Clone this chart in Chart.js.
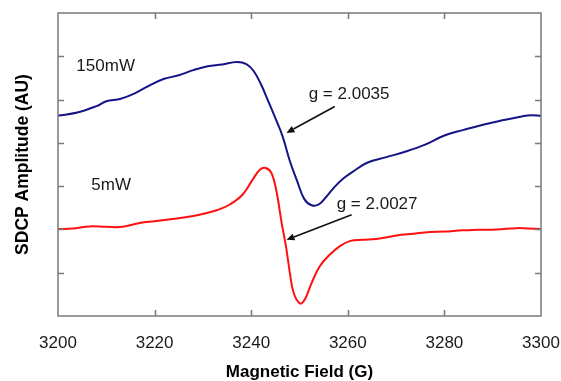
<!DOCTYPE html>
<html>
<head>
<meta charset="utf-8">
<script src="https://cdn.jsdelivr.net/npm/chart.js@4"></script>
<style>
  html, body { margin: 0; padding: 0; background: #fff; }
</style>
</head>
<body>
<canvas id="esrChart" width="561" height="381"></canvas>
<script>
// 150 mW 스펙트럼
const field150 = [3200, 3204, 3208, 3210, 3213, 3216, 3219, 3222, 3225, 3228, 3231, 3234, 3237, 3239,
  3240.5, 3242, 3243.5, 3245, 3246.5, 3248, 3249.5, 3251, 3252.5, 3254, 3255.5, 3257, 3259, 3261,
  3264, 3268, 3272, 3276, 3280, 3284, 3288, 3292, 3296, 3298, 3300];
const amp150 = [4.63, 4.70, 4.85, 4.96, 5.02, 5.15, 5.33, 5.48, 5.56, 5.68, 5.77, 5.81, 5.87, 5.82,
  5.66, 5.36, 4.97, 4.57, 4.15, 3.58, 3.12, 2.70, 2.56, 2.58, 2.75, 2.95, 3.17, 3.33,
  3.54, 3.67, 3.80, 3.96, 4.17, 4.30, 4.42, 4.52, 4.61, 4.64, 4.62];

// 5 mW 스펙트럼
const field5 = [3200, 3203, 3206.5, 3210, 3213.4, 3216.9, 3220, 3224.6, 3228, 3230.8, 3233, 3235.5,
  3238.2, 3240.3, 3241.8, 3243, 3244.2, 3245.3, 3246.3, 3247.2, 3248, 3248.8, 3250.1, 3251.1,
  3252.5, 3254.2, 3256.3, 3258.3, 3260.4, 3263.1, 3265.9, 3270.1, 3273.5, 3277, 3280, 3283.8,
  3287, 3290.8, 3295, 3297.5, 3300];
const amp5 = [2.01, 2.02, 2.07, 2.06, 2.06, 2.15, 2.19, 2.25, 2.31, 2.38, 2.45, 2.57,
  2.80, 3.15, 3.38, 3.42, 3.30, 2.84, 2.15, 1.61, 1.00, 0.53, 0.29, 0.38,
  0.76, 1.15, 1.42, 1.61, 1.73, 1.76, 1.78, 1.86, 1.90, 1.94, 1.95, 1.98,
  1.99, 2.00, 2.03, 2.02, 2.01];

const xTicks = [3200, 3220, 3240, 3260, 3280, 3300];
const yTicks = [0, 1, 2, 3, 4, 5, 6, 7];

// 라벨과 화살표 (데이터 좌표)
const labels = [
  { text: "150mW", x: 3203.8, y: 5.77 },
  { text: "5mW", x: 3206.9, y: 3.03 },
  { text: "g = 2.0035", x: 3251.9, y: 5.11 },
  { text: "g = 2.0027", x: 3257.7, y: 2.57 },
];
const arrows = [
  { from: [3257.3, 4.84], to: [3247.3, 4.23] },
  { from: [3260.8, 2.34], to: [3247.3, 1.76] },
];

const toPoints = (xs, ys) => xs.map((x, i) => ({ x, y: ys[i] }));

const FONT = "'Liberation Sans', Arial, sans-serif";

// 테두리, 안쪽 눈금, 주석
const framePlugin = {
  id: "framePlugin",
  afterDatasetsDraw(chart) {
    const { ctx, chartArea: a, scales } = chart;
    const xs = scales.x, ys = scales.y;
    ctx.save();
    ctx.strokeStyle = "#7a7a7a";
    ctx.lineWidth = 1.5;
    ctx.strokeRect(a.left, a.top, a.right - a.left, a.bottom - a.top);
    ctx.beginPath();
    xTicks.slice(1, -1).forEach((v) => {
      const px = Math.round(xs.getPixelForValue(v)) + 0.5;
      ctx.moveTo(px, a.bottom); ctx.lineTo(px, a.bottom - 6);
      ctx.moveTo(px, a.top); ctx.lineTo(px, a.top + 6);
    });
    yTicks.slice(1, -1).forEach((v) => {
      const py = Math.round(ys.getPixelForValue(v)) + 0.5;
      ctx.moveTo(a.left, py); ctx.lineTo(a.left + 6, py);
      ctx.moveTo(a.right, py); ctx.lineTo(a.right - 6, py);
    });
    ctx.stroke();

    ctx.fillStyle = "#1a1a1a";
    ctx.font = "17px " + FONT;
    ctx.textAlign = "left";
    ctx.textBaseline = "middle";
    labels.forEach((l) => {
      ctx.fillText(l.text, xs.getPixelForValue(l.x), ys.getPixelForValue(l.y));
    });

    ctx.strokeStyle = "#111";
    ctx.fillStyle = "#111";
    ctx.lineWidth = 1.6;
    arrows.forEach((ar) => {
      const x1 = xs.getPixelForValue(ar.from[0]), y1 = ys.getPixelForValue(ar.from[1]);
      const x2 = xs.getPixelForValue(ar.to[0]), y2 = ys.getPixelForValue(ar.to[1]);
      const ang = Math.atan2(y2 - y1, x2 - x1);
      const hl = 8, hw = 3.5;
      const bx = x2 - hl * Math.cos(ang), by = y2 - hl * Math.sin(ang);
      ctx.beginPath();
      ctx.moveTo(x1, y1); ctx.lineTo(bx, by);
      ctx.stroke();
      ctx.beginPath();
      ctx.moveTo(x2, y2);
      ctx.lineTo(bx + hw * Math.sin(ang), by - hw * Math.cos(ang));
      ctx.lineTo(bx - hw * Math.sin(ang), by + hw * Math.cos(ang));
      ctx.closePath();
      ctx.fill();
    });
    ctx.restore();
  },
};

new Chart(document.getElementById("esrChart").getContext("2d"), {
  type: "line",
  data: {
    datasets: [
      {
        label: "150mW",
        data: toPoints(field150, amp150),
        borderColor: "#141487",
        borderWidth: 2,
        pointRadius: 0,
        tension: 0.4,
      },
      {
        label: "5mW",
        data: toPoints(field5, amp5),
        borderColor: "#ff1010",
        borderWidth: 2,
        pointRadius: 0,
        tension: 0.4,
      },
    ],
  },
  options: {
    responsive: false,
    animation: false,
    layout: { padding: { top: 13, right: 20, left: 0, bottom: 0 } },
    plugins: { legend: { display: false }, tooltip: { enabled: false } },
    scales: {
      x: {
        type: "linear",
        min: 3200,
        max: 3300,
        afterBuildTicks: (s) => { s.ticks = xTicks.map((v) => ({ value: v })); },
        afterFit: (s) => { s.height = 65; s.paddingLeft = 0; s.paddingRight = 0; },
        grid: { display: false, drawTicks: false },
        border: { display: false },
        ticks: {
          color: "#1a1a1a",
          font: { family: FONT, size: 17 },
          padding: 17,
          maxRotation: 0,
          callback: (v) => String(v),
        },
        title: {
          display: true,
          text: "Magnetic Field (G)",
          color: "#000",
          font: { family: FONT, size: 17, weight: "bold", lineHeight: 1 },
          padding: 0,
        },
      },
      y: {
        min: 0,
        max: 7,
        afterBuildTicks: (s) => { s.ticks = yTicks.map((v) => ({ value: v })); },
        afterFit: (s) => { s.width = 58; },
        grid: { display: false, drawTicks: false },
        border: { display: false },
        ticks: { display: false },
        title: {
          display: true,
          text: "SDCP Amplitude (AU)",
          color: "#000",
          font: { family: FONT, size: 17.5, weight: "bold", lineHeight: 1 },
          padding: 14,
        },
      },
    },
  },
  plugins: [framePlugin],
});
</script>
</body>
</html>
